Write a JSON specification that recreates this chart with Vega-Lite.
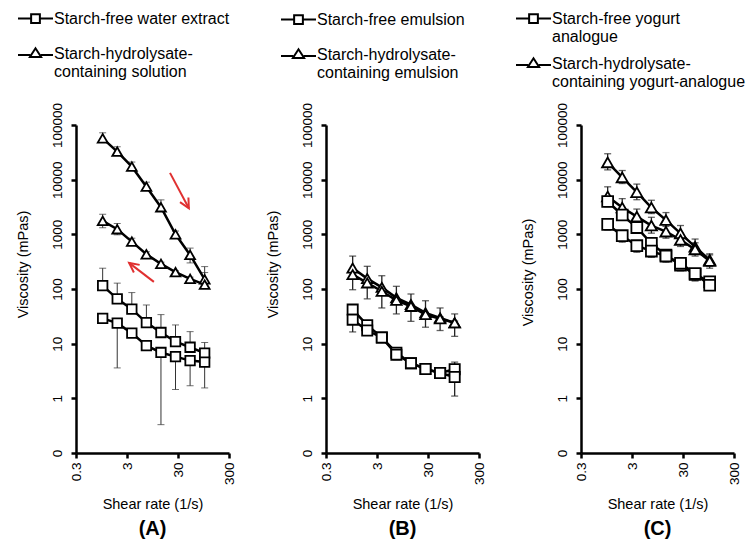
{
"$schema": "https://vega.github.io/schema/vega-lite/v6.json",
"background": "white",
"padding": {"left": 15, "top": 0, "right": 5, "bottom": 5},
"config": {
  "font": "Liberation Sans",
  "view": {"stroke": null},
  "axisX": {"grid": false, "domainColor": "black", "domainWidth": 2.5, "tickColor": "black", "tickWidth": 2.5, "tickSize": 5, "labelAngle": 270, "labelAlign": "right", "labelBaseline": "middle", "labelFontSize": 13.5, "labelColor": "black", "labelPadding": 4, "labelOverlap": false, "labelFlush": false, "titleFontSize": 14.5, "titleFontWeight": "normal", "titleColor": "black", "titlePadding": 13},
  "axisY": {"grid": false, "domainColor": "black", "domainWidth": 2.5, "tickColor": "black", "tickWidth": 2.5, "tickSize": 5, "labelAngle": 270, "labelAlign": "center", "labelBaseline": "bottom", "labelFontSize": 13.5, "labelColor": "black", "labelPadding": 7, "labelOverlap": false, "labelFlush": false, "titleFontSize": 14.5, "titleFontWeight": "normal", "titleColor": "black", "titlePadding": 20},
  "title": {"fontSize": 20, "fontWeight": "bold", "color": "black", "offset": 8, "orient": "bottom", "anchor": "middle"},
  "legend": {"orient": "none", "title": null, "direction": "vertical", "symbolSize": 1225, "symbolStrokeWidth": 2, "symbolStrokeColor": "black", "labelFontSize": 16, "labelColor": "black", "labelOffset": 0, "labelLimit": 400, "labelBaseline": "middle", "padding": 0}
},
"data": {"values": [
{"panel":"A","series":"Starch-hydrolysate-containing solution","curve":"A1","shear":1,"v":57000,"lo":50000,"hi":72000},
{"panel":"A","series":"Starch-hydrolysate-containing solution","curve":"A1","shear":1.93,"v":32500,"lo":28000,"hi":40000},
{"panel":"A","series":"Starch-hydrolysate-containing solution","curve":"A1","shear":3.73,"v":17300,"lo":15000,"hi":21000},
{"panel":"A","series":"Starch-hydrolysate-containing solution","curve":"A1","shear":7.2,"v":7450,"lo":6500,"hi":9000},
{"panel":"A","series":"Starch-hydrolysate-containing solution","curve":"A1","shear":13.9,"v":3130,"lo":2700,"hi":4270},
{"panel":"A","series":"Starch-hydrolysate-containing solution","curve":"A1","shear":26.8,"v":1000,"lo":880,"hi":1150},
{"panel":"A","series":"Starch-hydrolysate-containing solution","curve":"A1","shear":51.8,"v":420,"lo":300,"hi":560},
{"panel":"A","series":"Starch-hydrolysate-containing solution","curve":"A1","shear":100,"v":150,"lo":105,"hi":257},
{"panel":"A","series":"Starch-hydrolysate-containing solution","curve":"A2","shear":1,"v":1760,"lo":1320,"hi":2330},
{"panel":"A","series":"Starch-hydrolysate-containing solution","curve":"A2","shear":1.93,"v":1240,"lo":980,"hi":1580},
{"panel":"A","series":"Starch-hydrolysate-containing solution","curve":"A2","shear":3.73,"v":736,"lo":650,"hi":850},
{"panel":"A","series":"Starch-hydrolysate-containing solution","curve":"A2","shear":7.2,"v":432,"lo":400,"hi":480},
{"panel":"A","series":"Starch-hydrolysate-containing solution","curve":"A2","shear":13.9,"v":288,"lo":270,"hi":310},
{"panel":"A","series":"Starch-hydrolysate-containing solution","curve":"A2","shear":26.8,"v":203,"lo":190,"hi":215},
{"panel":"A","series":"Starch-hydrolysate-containing solution","curve":"A2","shear":51.8,"v":153,"lo":145,"hi":165},
{"panel":"A","series":"Starch-hydrolysate-containing solution","curve":"A2","shear":100,"v":120,"lo":110,"hi":200},
{"panel":"A","series":"Starch-free water extract","curve":"A3","shear":1,"v":115,"lo":105,"hi":240},
{"panel":"A","series":"Starch-free water extract","curve":"A3","shear":1.93,"v":66,"lo":60,"hi":128},
{"panel":"A","series":"Starch-free water extract","curve":"A3","shear":3.73,"v":42.7,"lo":40,"hi":86},
{"panel":"A","series":"Starch-free water extract","curve":"A3","shear":7.2,"v":24.3,"lo":22,"hi":51},
{"panel":"A","series":"Starch-free water extract","curve":"A3","shear":13.9,"v":16,"lo":14.5,"hi":34},
{"panel":"A","series":"Starch-free water extract","curve":"A3","shear":26.8,"v":10.9,"lo":10,"hi":22},
{"panel":"A","series":"Starch-free water extract","curve":"A3","shear":51.8,"v":8.6,"lo":7.9,"hi":16.6},
{"panel":"A","series":"Starch-free water extract","curve":"A3","shear":100,"v":6.7,"lo":4,"hi":10.5},
{"panel":"A","series":"Starch-free water extract","curve":"A4","shear":1,"v":29,"lo":27,"hi":31},
{"panel":"A","series":"Starch-free water extract","curve":"A4","shear":1.93,"v":23.7,"lo":3.6,"hi":26},
{"panel":"A","series":"Starch-free water extract","curve":"A4","shear":3.73,"v":15.6,"lo":14,"hi":17},
{"panel":"A","series":"Starch-free water extract","curve":"A4","shear":7.2,"v":9.2,"lo":8.5,"hi":10},
{"panel":"A","series":"Starch-free water extract","curve":"A4","shear":13.9,"v":6.9,"lo":0.33,"hi":7.5},
{"panel":"A","series":"Starch-free water extract","curve":"A4","shear":26.8,"v":5.8,"lo":1.45,"hi":6.3},
{"panel":"A","series":"Starch-free water extract","curve":"A4","shear":51.8,"v":4.9,"lo":1.7,"hi":5.3},
{"panel":"A","series":"Starch-free water extract","curve":"A4","shear":100,"v":4.6,"lo":1.55,"hi":8},
{"panel":"B","series":"Starch-hydrolysate-containing emulsion","curve":"B1","shear":1,"v":242,"lo":220,"hi":400},
{"panel":"B","series":"Starch-hydrolysate-containing emulsion","curve":"B1","shear":1.93,"v":155,"lo":140,"hi":260},
{"panel":"B","series":"Starch-hydrolysate-containing emulsion","curve":"B1","shear":3.73,"v":107,"lo":97,"hi":175},
{"panel":"B","series":"Starch-hydrolysate-containing emulsion","curve":"B1","shear":7.2,"v":69,"lo":62,"hi":112},
{"panel":"B","series":"Starch-hydrolysate-containing emulsion","curve":"B1","shear":13.9,"v":52,"lo":47,"hi":81},
{"panel":"B","series":"Starch-hydrolysate-containing emulsion","curve":"B1","shear":26.8,"v":36.6,"lo":33,"hi":61},
{"panel":"B","series":"Starch-hydrolysate-containing emulsion","curve":"B1","shear":51.8,"v":29.6,"lo":27,"hi":45},
{"panel":"B","series":"Starch-hydrolysate-containing emulsion","curve":"B1","shear":100,"v":24,"lo":22,"hi":35},
{"panel":"B","series":"Starch-hydrolysate-containing emulsion","curve":"B2","shear":1,"v":183,"lo":97,"hi":200},
{"panel":"B","series":"Starch-hydrolysate-containing emulsion","curve":"B2","shear":1.93,"v":129,"lo":66,"hi":140},
{"panel":"B","series":"Starch-hydrolysate-containing emulsion","curve":"B2","shear":3.73,"v":91,"lo":45,"hi":100},
{"panel":"B","series":"Starch-hydrolysate-containing emulsion","curve":"B2","shear":7.2,"v":62,"lo":35,"hi":68},
{"panel":"B","series":"Starch-hydrolysate-containing emulsion","curve":"B2","shear":13.9,"v":48,"lo":25.6,"hi":52},
{"panel":"B","series":"Starch-hydrolysate-containing emulsion","curve":"B2","shear":26.8,"v":34,"lo":20,"hi":37},
{"panel":"B","series":"Starch-hydrolysate-containing emulsion","curve":"B2","shear":51.8,"v":28.4,"lo":17.4,"hi":31},
{"panel":"B","series":"Starch-hydrolysate-containing emulsion","curve":"B2","shear":100,"v":24,"lo":13.6,"hi":26},
{"panel":"B","series":"Starch-free emulsion","curve":"B3","shear":1,"v":42,"lo":38,"hi":50},
{"panel":"B","series":"Starch-free emulsion","curve":"B3","shear":1.93,"v":21.8,"lo":20,"hi":24},
{"panel":"B","series":"Starch-free emulsion","curve":"B3","shear":3.73,"v":13,"lo":12,"hi":14},
{"panel":"B","series":"Starch-free emulsion","curve":"B3","shear":7.2,"v":6.8,"lo":6.3,"hi":7.3},
{"panel":"B","series":"Starch-free emulsion","curve":"B3","shear":13.9,"v":4.4,"lo":4.1,"hi":4.7},
{"panel":"B","series":"Starch-free emulsion","curve":"B3","shear":26.8,"v":3.45,"lo":3.2,"hi":3.7},
{"panel":"B","series":"Starch-free emulsion","curve":"B3","shear":51.8,"v":2.9,"lo":2.7,"hi":3.1},
{"panel":"B","series":"Starch-free emulsion","curve":"B3","shear":100,"v":3.4,"lo":3,"hi":4.6},
{"panel":"B","series":"Starch-free emulsion","curve":"B4","shear":1,"v":27.5,"lo":16.4,"hi":30},
{"panel":"B","series":"Starch-free emulsion","curve":"B4","shear":1.93,"v":17.4,"lo":15.5,"hi":19},
{"panel":"B","series":"Starch-free emulsion","curve":"B4","shear":3.73,"v":13,"lo":12,"hi":14},
{"panel":"B","series":"Starch-free emulsion","curve":"B4","shear":7.2,"v":6.3,"lo":5.1,"hi":6.8},
{"panel":"B","series":"Starch-free emulsion","curve":"B4","shear":13.9,"v":4.4,"lo":4.1,"hi":4.7},
{"panel":"B","series":"Starch-free emulsion","curve":"B4","shear":26.8,"v":3.45,"lo":3.2,"hi":3.7},
{"panel":"B","series":"Starch-free emulsion","curve":"B4","shear":51.8,"v":2.9,"lo":2.7,"hi":3.1},
{"panel":"B","series":"Starch-free emulsion","curve":"B4","shear":100,"v":2.45,"lo":1.1,"hi":2.7},
{"panel":"C","series":"Starch-hydrolysate-containing yogurt-analogue","curve":"C1","shear":1,"v":20700,"lo":15100,"hi":29800},
{"panel":"C","series":"Starch-hydrolysate-containing yogurt-analogue","curve":"C1","shear":1.93,"v":11000,"lo":8500,"hi":14700},
{"panel":"C","series":"Starch-hydrolysate-containing yogurt-analogue","curve":"C1","shear":3.73,"v":5900,"lo":4300,"hi":8300},
{"panel":"C","series":"Starch-hydrolysate-containing yogurt-analogue","curve":"C1","shear":7.2,"v":3090,"lo":2400,"hi":4200},
{"panel":"C","series":"Starch-hydrolysate-containing yogurt-analogue","curve":"C1","shear":13.9,"v":1820,"lo":1400,"hi":2500},
{"panel":"C","series":"Starch-hydrolysate-containing yogurt-analogue","curve":"C1","shear":26.8,"v":1040,"lo":780,"hi":1450},
{"panel":"C","series":"Starch-hydrolysate-containing yogurt-analogue","curve":"C1","shear":51.8,"v":590,"lo":440,"hi":820},
{"panel":"C","series":"Starch-hydrolysate-containing yogurt-analogue","curve":"C1","shear":100,"v":340,"lo":260,"hi":440},
{"panel":"C","series":"Starch-hydrolysate-containing yogurt-analogue","curve":"C2","shear":1,"v":4920,"lo":3700,"hi":7400},
{"panel":"C","series":"Starch-hydrolysate-containing yogurt-analogue","curve":"C2","shear":1.93,"v":3090,"lo":2300,"hi":4500},
{"panel":"C","series":"Starch-hydrolysate-containing yogurt-analogue","curve":"C2","shear":3.73,"v":2110,"lo":1600,"hi":2900},
{"panel":"C","series":"Starch-hydrolysate-containing yogurt-analogue","curve":"C2","shear":7.2,"v":1445,"lo":1050,"hi":2050},
{"panel":"C","series":"Starch-hydrolysate-containing yogurt-analogue","curve":"C2","shear":13.9,"v":1120,"lo":850,"hi":1550},
{"panel":"C","series":"Starch-hydrolysate-containing yogurt-analogue","curve":"C2","shear":26.8,"v":790,"lo":600,"hi":1050},
{"panel":"C","series":"Starch-hydrolysate-containing yogurt-analogue","curve":"C2","shear":51.8,"v":530,"lo":400,"hi":700},
{"panel":"C","series":"Starch-hydrolysate-containing yogurt-analogue","curve":"C2","shear":100,"v":324,"lo":240,"hi":420},
{"panel":"C","series":"Starch-free yogurt analogue","curve":"C3","shear":1,"v":3980,"lo":3200,"hi":4800},
{"panel":"C","series":"Starch-free yogurt analogue","curve":"C3","shear":1.93,"v":2260,"lo":1800,"hi":2700},
{"panel":"C","series":"Starch-free yogurt analogue","curve":"C3","shear":3.73,"v":1330,"lo":1060,"hi":1600},
{"panel":"C","series":"Starch-free yogurt analogue","curve":"C3","shear":7.2,"v":684,"lo":550,"hi":820},
{"panel":"C","series":"Starch-free yogurt analogue","curve":"C3","shear":13.9,"v":417,"lo":330,"hi":500},
{"panel":"C","series":"Starch-free yogurt analogue","curve":"C3","shear":26.8,"v":273,"lo":215,"hi":330},
{"panel":"C","series":"Starch-free yogurt analogue","curve":"C3","shear":51.8,"v":185,"lo":145,"hi":220},
{"panel":"C","series":"Starch-free yogurt analogue","curve":"C3","shear":100,"v":135,"lo":105,"hi":160},
{"panel":"C","series":"Starch-free yogurt analogue","curve":"C4","shear":1,"v":1520,"lo":1200,"hi":1850},
{"panel":"C","series":"Starch-free yogurt analogue","curve":"C4","shear":1.93,"v":945,"lo":720,"hi":1150},
{"panel":"C","series":"Starch-free yogurt analogue","curve":"C4","shear":3.73,"v":620,"lo":470,"hi":750},
{"panel":"C","series":"Starch-free yogurt analogue","curve":"C4","shear":7.2,"v":494,"lo":380,"hi":600},
{"panel":"C","series":"Starch-free yogurt analogue","curve":"C4","shear":13.9,"v":400,"lo":310,"hi":480},
{"panel":"C","series":"Starch-free yogurt analogue","curve":"C4","shear":26.8,"v":295,"lo":220,"hi":360},
{"panel":"C","series":"Starch-free yogurt analogue","curve":"C4","shear":51.8,"v":192,"lo":140,"hi":235},
{"panel":"C","series":"Starch-free yogurt analogue","curve":"C4","shear":100,"v":117,"lo":95,"hi":140}
]},
"hconcat": [
{
 "width": 153, "height": 328,
 "title": {"text": "(A)"},
 "resolve": {"scale": {"shape": "independent"}, "legend": {"shape": "independent"}},
 "layer": [
  {"transform": [{"filter": "datum.panel == 'A'"}],
   "mark": {"type": "errorbar", "ticks": true, "size": 7, "thickness": 1, "color": "#333"},
   "encoding": {
    "x": {"field": "shear", "type": "quantitative", "scale": {"type": "log", "domain": [0.3, 300], "nice": false}, "axis": {"values": [0.3, 3, 30, 300], "labelExpr": "format(datum.value, '~g')"}, "title": "Shear rate (1/s)"},
    "y": {"field": "lo", "type": "quantitative", "scale": {"type": "log", "domain": [0.1, 100000], "nice": false}, "axis": {"values": [0.1, 1, 10, 100, 1000, 10000, 100000], "labelExpr": "datum.value < 0.5 ? '0' : format(datum.value, 'd')", "titleY": 139}, "title": "Viscosity (mPas)"},
    "y2": {"field": "hi"},
    "detail": {"field": "curve"}}},
  {"transform": [{"filter": "datum.panel == 'A'"}],
   "mark": {"type": "line", "color": "black", "strokeWidth": 2.5},
   "encoding": {
    "x": {"field": "shear", "type": "quantitative", "scale": {"type": "log", "domain": [0.3, 300], "nice": false}, "title": "Shear rate (1/s)"},
    "y": {"field": "v", "type": "quantitative", "scale": {"type": "log", "domain": [0.1, 100000], "nice": false}, "title": "Viscosity (mPas)"},
    "detail": {"field": "curve"}}},
  {"transform": [{"filter": "datum.panel == 'A'"}],
   "mark": {"type": "point", "filled": true, "fill": "white", "stroke": "black", "strokeWidth": 1.8, "opacity": 1},
   "encoding": {
    "x": {"field": "shear", "type": "quantitative", "scale": {"type": "log", "domain": [0.3, 300], "nice": false}, "title": "Shear rate (1/s)"},
    "y": {"field": "v", "type": "quantitative", "scale": {"type": "log", "domain": [0.1, 100000], "nice": false}, "title": "Viscosity (mPas)"},
    "size": {"field": "series", "type": "nominal", "scale": {"domain": ["Starch-free water extract", "Starch-hydrolysate-containing solution"], "range": [90, 125]}, "legend": null},
    "shape": {"field": "series", "type": "nominal", "scale": {"domain": ["Starch-free water extract", "Starch-hydrolysate-containing solution"], "range": ["square", "triangle-up"]}, "legend": null}}},
  {"transform": [{"filter": "datum.panel == 'A' && false"}],
   "mark": {"type": "point", "filled": false, "color": "black", "strokeWidth": 2, "opacity": 1},
   "encoding": {
    "x": {"field": "shear", "type": "quantitative", "scale": {"type": "log", "domain": [0.3, 300], "nice": false}, "title": "Shear rate (1/s)"},
    "y": {"field": "v", "type": "quantitative", "scale": {"type": "log", "domain": [0.1, 100000], "nice": false}, "title": "Viscosity (mPas)"},
    "shape": {"field": "series", "type": "nominal", "scale": {"domain": ["Starch-free water extract", "Starch-hydrolysate-containing solution"], "range": ["M-1,0H-0.25M0.25,0H1M-0.25,-0.25H0.25V0.25H-0.25Z", "M-1,0.08H-0.3M0.3,0.08H1M-0.32,0.2L0,-0.3L0.32,0.2Z"]},
      "legend": {"legendX": -59, "legendY": -125, "rowPadding": 8,
        "labelExpr": "split(replace(replace(datum.label, 'hydrolysate-', 'hydrolysate-|'), 'yogurt analogue', 'yogurt|analogue'), '|')"}}}},
  {"data": {"values": [{"id": 1, "x1": 20.9, "y1": 13300, "x2": 49, "y2": 3000}, {"id": 2, "x1": 10.1, "y1": 135, "x2": 3.3, "y2": 300}]},
   "mark": {"type": "rule", "color": "#e03030", "strokeWidth": 2},
   "encoding": {
    "x": {"field": "x1", "type": "quantitative", "scale": {"type": "log", "domain": [0.3, 300], "nice": false}, "title": "Shear rate (1/s)"},
    "y": {"field": "y1", "type": "quantitative", "scale": {"type": "log", "domain": [0.1, 100000], "nice": false}, "title": "Viscosity (mPas)"},
    "x2": {"field": "x2"}, "y2": {"field": "y2"}}},
  {"data": {"values": [{"id": 1, "x1": 20.9, "y1": 13300, "x2": 49, "y2": 3000}]},
   "mark": {"type": "point", "shape": "M-0.8,1.6L0,0L0.8,1.6", "angle": 151, "size": 144, "filled": false, "stroke": "#e03030", "strokeWidth": 2, "opacity": 1},
   "encoding": {
    "x": {"field": "x2", "type": "quantitative", "scale": {"type": "log", "domain": [0.3, 300], "nice": false}, "title": "Shear rate (1/s)"},
    "y": {"field": "y2", "type": "quantitative", "scale": {"type": "log", "domain": [0.1, 100000], "nice": false}, "title": "Viscosity (mPas)"}}},
  {"data": {"values": [{"id": 2, "x1": 10.1, "y1": 135, "x2": 3.3, "y2": 300}]},
   "mark": {"type": "point", "shape": "M-0.8,1.6L0,0L0.8,1.6", "angle": 307, "size": 144, "filled": false, "stroke": "#e03030", "strokeWidth": 2, "opacity": 1},
   "encoding": {
    "x": {"field": "x2", "type": "quantitative", "scale": {"type": "log", "domain": [0.3, 300], "nice": false}, "title": "Shear rate (1/s)"},
    "y": {"field": "y2", "type": "quantitative", "scale": {"type": "log", "domain": [0.1, 100000], "nice": false}, "title": "Viscosity (mPas)"}}}
 ]
},
{
 "width": 153, "height": 328,
 "title": {"text": "(B)"},
 "transform": [{"filter": "datum.panel == 'B'"}],
 "resolve": {"scale": {"shape": "independent"}, "legend": {"shape": "independent"}},
 "layer": [
  {"mark": {"type": "errorbar", "ticks": true, "size": 7, "thickness": 1.3, "color": "#222"},
   "encoding": {
    "x": {"field": "shear", "type": "quantitative", "scale": {"type": "log", "domain": [0.3, 300], "nice": false}, "axis": {"values": [0.3, 3, 30, 300], "labelExpr": "format(datum.value, '~g')"}, "title": "Shear rate (1/s)"},
    "y": {"field": "lo", "type": "quantitative", "scale": {"type": "log", "domain": [0.1, 100000], "nice": false}, "axis": {"values": [0.1, 1, 10, 100, 1000, 10000, 100000], "labelExpr": "datum.value < 0.5 ? '0' : format(datum.value, 'd')", "titleY": 139}, "title": "Viscosity (mPas)"},
    "y2": {"field": "hi"},
    "detail": {"field": "curve"}}},
  {"mark": {"type": "line", "color": "black", "strokeWidth": 2.5},
   "encoding": {
    "x": {"field": "shear", "type": "quantitative", "scale": {"type": "log", "domain": [0.3, 300], "nice": false}, "title": "Shear rate (1/s)"},
    "y": {"field": "v", "type": "quantitative", "scale": {"type": "log", "domain": [0.1, 100000], "nice": false}, "title": "Viscosity (mPas)"},
    "detail": {"field": "curve"}}},
  {"mark": {"type": "point", "filled": true, "fill": "white", "stroke": "black", "strokeWidth": 1.8, "opacity": 1},
   "encoding": {
    "x": {"field": "shear", "type": "quantitative", "scale": {"type": "log", "domain": [0.3, 300], "nice": false}, "title": "Shear rate (1/s)"},
    "y": {"field": "v", "type": "quantitative", "scale": {"type": "log", "domain": [0.1, 100000], "nice": false}, "title": "Viscosity (mPas)"},
    "size": {"field": "series", "type": "nominal", "scale": {"domain": ["Starch-free emulsion", "Starch-hydrolysate-containing emulsion"], "range": [90, 125]}, "legend": null},
    "shape": {"field": "series", "type": "nominal", "scale": {"domain": ["Starch-free emulsion", "Starch-hydrolysate-containing emulsion"], "range": ["square", "triangle-up"]}, "legend": null}}},
  {"transform": [{"filter": "false"}],
   "mark": {"type": "point", "filled": false, "color": "black", "strokeWidth": 2, "opacity": 1},
   "encoding": {
    "x": {"field": "shear", "type": "quantitative", "scale": {"type": "log", "domain": [0.3, 300], "nice": false}, "title": "Shear rate (1/s)"},
    "y": {"field": "v", "type": "quantitative", "scale": {"type": "log", "domain": [0.1, 100000], "nice": false}, "title": "Viscosity (mPas)"},
    "shape": {"field": "series", "type": "nominal", "scale": {"domain": ["Starch-free emulsion", "Starch-hydrolysate-containing emulsion"], "range": ["M-1,0H-0.25M0.25,0H1M-0.25,-0.25H0.25V0.25H-0.25Z", "M-1,0.08H-0.3M0.3,0.08H1M-0.32,0.2L0,-0.3L0.32,0.2Z"]},
      "legend": {"legendX": -46, "legendY": -124, "rowPadding": 8,
        "labelExpr": "split(replace(replace(datum.label, 'hydrolysate-', 'hydrolysate-|'), 'yogurt analogue', 'yogurt|analogue'), '|')"}}}}
 ]
},
{
 "width": 153, "height": 328,
 "title": {"text": "(C)"},
 "transform": [{"filter": "datum.panel == 'C'"}],
 "resolve": {"scale": {"shape": "independent"}, "legend": {"shape": "independent"}},
 "layer": [
  {"mark": {"type": "errorbar", "ticks": true, "size": 7, "thickness": 1.3, "color": "#222"},
   "encoding": {
    "x": {"field": "shear", "type": "quantitative", "scale": {"type": "log", "domain": [0.3, 300], "nice": false}, "axis": {"values": [0.3, 3, 30, 300], "labelExpr": "format(datum.value, '~g')"}, "title": "Shear rate (1/s)"},
    "y": {"field": "lo", "type": "quantitative", "scale": {"type": "log", "domain": [0.1, 100000], "nice": false}, "axis": {"values": [0.1, 1, 10, 100, 1000, 10000, 100000], "labelExpr": "datum.value < 0.5 ? '0' : format(datum.value, 'd')", "titleY": 147}, "title": "Viscosity (mPas)"},
    "y2": {"field": "hi"},
    "detail": {"field": "curve"}}},
  {"mark": {"type": "line", "color": "black", "strokeWidth": 2.5},
   "encoding": {
    "x": {"field": "shear", "type": "quantitative", "scale": {"type": "log", "domain": [0.3, 300], "nice": false}, "title": "Shear rate (1/s)"},
    "y": {"field": "v", "type": "quantitative", "scale": {"type": "log", "domain": [0.1, 100000], "nice": false}, "title": "Viscosity (mPas)"},
    "detail": {"field": "curve"}}},
  {"mark": {"type": "point", "filled": true, "fill": "white", "stroke": "black", "strokeWidth": 1.8, "opacity": 1},
   "encoding": {
    "x": {"field": "shear", "type": "quantitative", "scale": {"type": "log", "domain": [0.3, 300], "nice": false}, "title": "Shear rate (1/s)"},
    "y": {"field": "v", "type": "quantitative", "scale": {"type": "log", "domain": [0.1, 100000], "nice": false}, "title": "Viscosity (mPas)"},
    "size": {"field": "series", "type": "nominal", "scale": {"domain": ["Starch-free yogurt analogue", "Starch-hydrolysate-containing yogurt-analogue"], "range": [90, 125]}, "legend": null},
    "shape": {"field": "series", "type": "nominal", "scale": {"domain": ["Starch-free yogurt analogue", "Starch-hydrolysate-containing yogurt-analogue"], "range": ["square", "triangle-up"]}, "legend": null}}},
  {"transform": [{"filter": "false"}],
   "mark": {"type": "point", "filled": false, "color": "black", "strokeWidth": 2, "opacity": 1},
   "encoding": {
    "x": {"field": "shear", "type": "quantitative", "scale": {"type": "log", "domain": [0.3, 300], "nice": false}, "title": "Shear rate (1/s)"},
    "y": {"field": "v", "type": "quantitative", "scale": {"type": "log", "domain": [0.1, 100000], "nice": false}, "title": "Viscosity (mPas)"},
    "shape": {"field": "series", "type": "nominal", "scale": {"domain": ["Starch-free yogurt analogue", "Starch-hydrolysate-containing yogurt-analogue"], "range": ["M-1,0H-0.25M0.25,0H1M-0.25,-0.25H0.25V0.25H-0.25Z", "M-1,0.08H-0.3M0.3,0.08H1M-0.32,0.2L0,-0.3L0.32,0.2Z"]},
      "legend": {"legendX": -66, "legendY": -125, "rowPadding": 0,
        "labelExpr": "split(replace(replace(datum.label, 'hydrolysate-', 'hydrolysate-|'), 'yogurt analogue', 'yogurt|analogue'), '|')"}}}}
 ]
}
],
"spacing": 29,
"resolve": {"scale": {"shape": "independent"}, "legend": {"shape": "independent"}}
}
